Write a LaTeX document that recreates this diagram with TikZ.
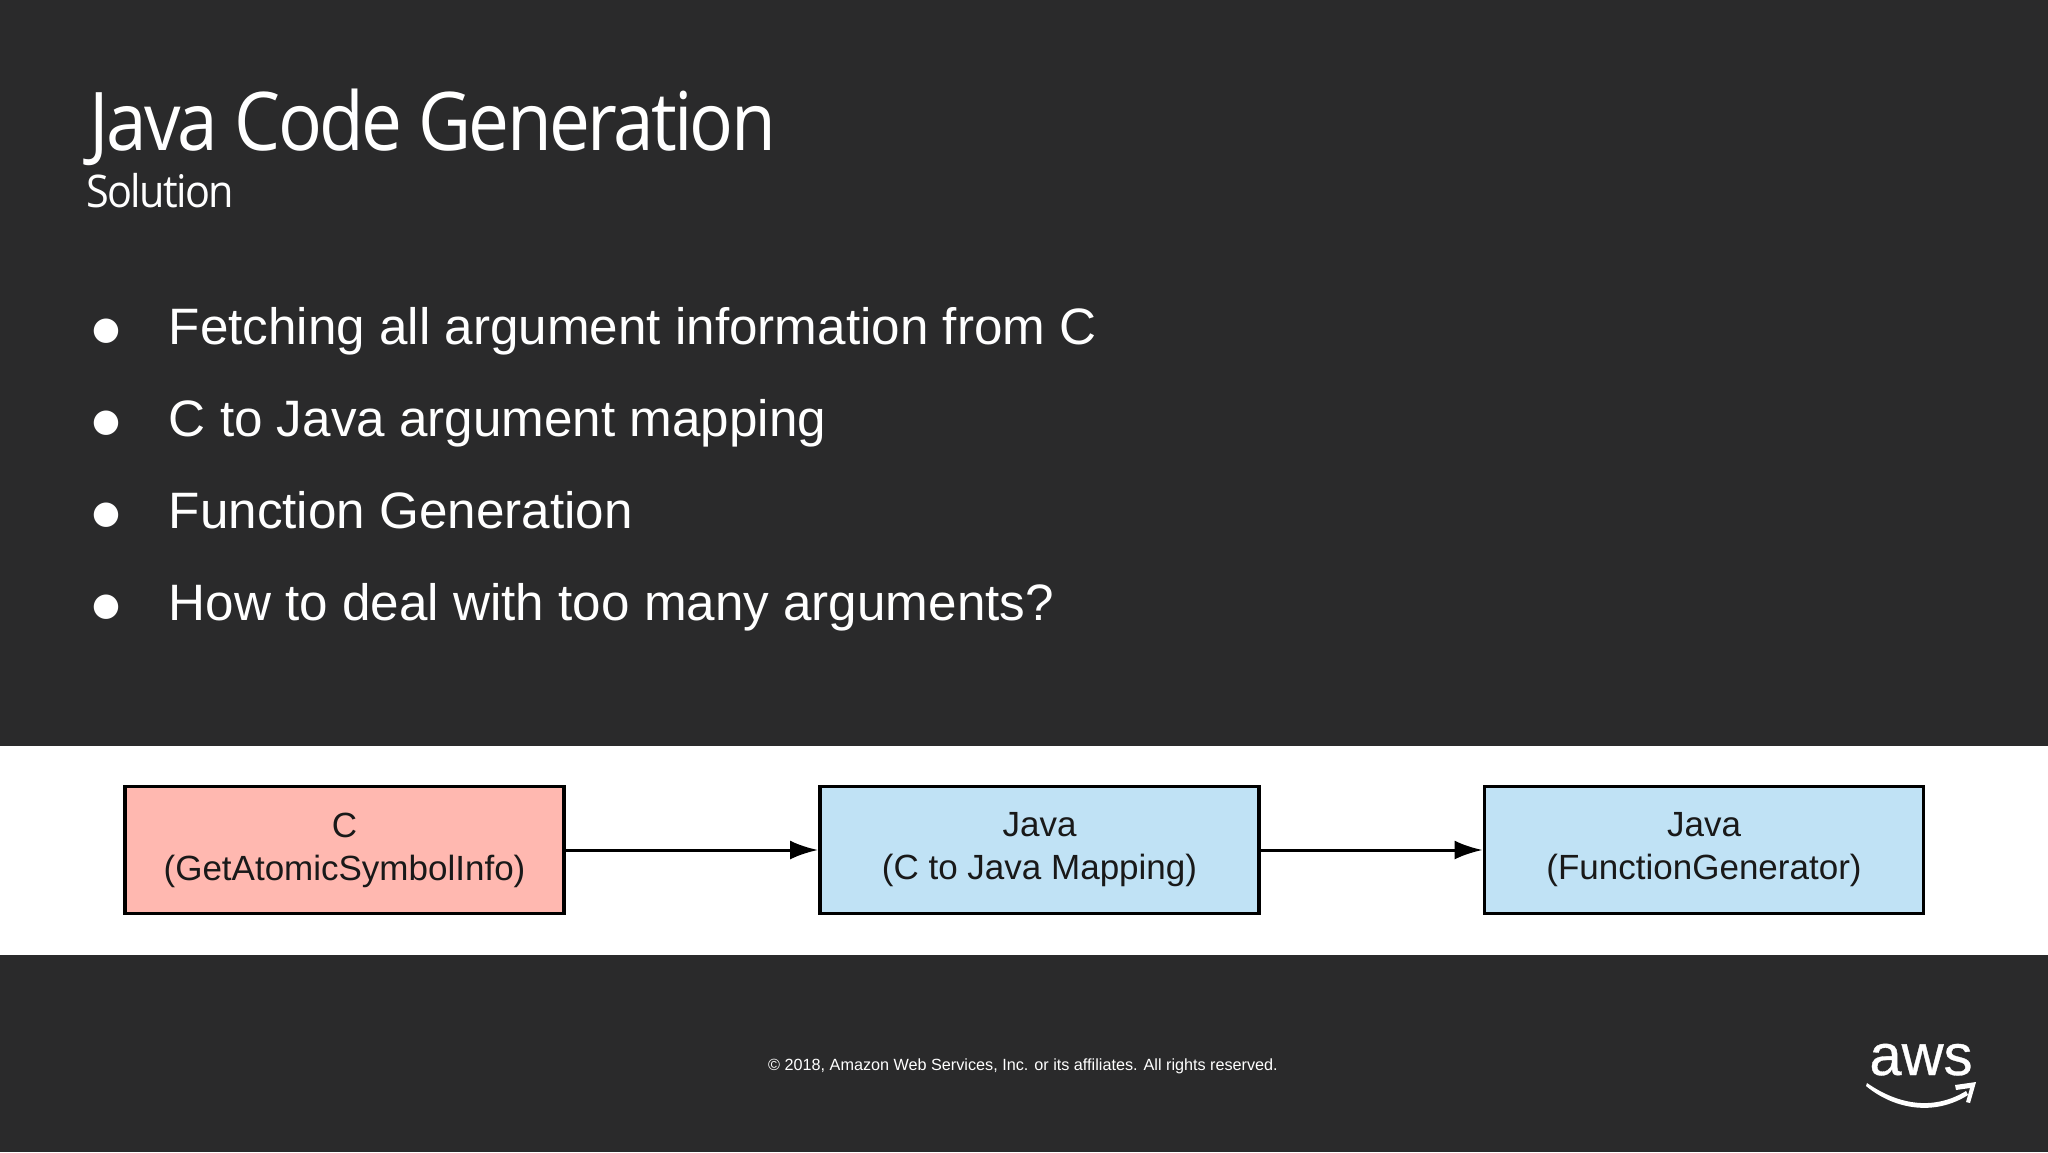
\documentclass[tikz,border=0pt]{standalone}
\usepackage{fontspec}
\setmainfont{Liberation Sans}
\newfontfamily\titlefont[FakeStretch=0.9,LetterSpace=-3.3]{Open Sans}
\newfontfamily\subfont[FakeStretch=0.92,LetterSpace=-3.6]{Open Sans}
\newfontfamily\dotfont{DejaVu Sans}
\newfontfamily\awsfont[FakeBold=0.6]{Liberation Sans}
\definecolor{slatebg}{HTML}{2A2A2B}
\definecolor{pinkfill}{HTML}{FFB8B0}
\definecolor{bluefill}{HTML}{C0E2F5}
\usetikzlibrary{arrows.meta}
\tikzset{
  titletext/.style={anchor=base west,inner sep=0pt,text=white,font=\titlefont\fontsize{40.5}{40.5}\selectfont},
  subtext/.style={anchor=base west,inner sep=0pt,text=white,font=\subfont\fontsize{22.5}{22.5}\selectfont},
  bullettext/.style={anchor=base west,inner sep=0pt,text=white,font=\fontsize{25.6}{30}\selectfont},
  bulletdot/.style={anchor=base,inner sep=0pt,text=white,font=\dotfont\fontsize{16}{20}\selectfont},
  flowbox/.style={draw=black,line width=1.6pt,minimum width=219.5pt,minimum height=63.5pt,inner sep=0pt,outer sep=0pt,align=center,text=black!90,font=\fontsize{17.5}{21.5}\selectfont},
  flowarrow/.style={draw=black,line width=1.5pt,shorten >=1pt,-{Latex[length=14pt,width=9.5pt]}},
  foottext/.style={anchor=base,inner sep=0pt,text=white,font=\fontsize{8.1}{10}\selectfont},
  awstext/.style={anchor=base,inner sep=0pt,text=white,font=\awsfont\fontsize{29}{30}\selectfont},
}
\begin{document}
\begin{tikzpicture}[x=0.5pt,y=-0.5pt]
\useasboundingbox (0,0) rectangle (2048,1152);
\fill[slatebg] (0,0) rectangle (2048,1152);
\fill[white] (0,746) rectangle (2048,955);
\node[titletext] (title) at (89,150) {Java Code Generation};
\node[subtext] (subtitle) at (86,207) {Solution};
\foreach \n/\y/\t in {1/344/Fetching all argument information from C,2/436/C to Java argument mapping,3/528/Function Generation,4/620/How to deal with too many arguments?}{
  \node[bulletdot] (dot\n) at (106,\y-5) {●};
  \node[bullettext] (item\n) at (168.5,\y) {\t};
}
\node[flowbox,fill=pinkfill] (c) at (344.5,850) {C\\(GetAtomicSymbolInfo)};
\node[flowbox,fill=bluefill] (map) at (1039.5,850) {Java\\(C to Java Mapping)};
\node[flowbox,fill=bluefill] (gen) at (1704,850) {Java\\(FunctionGenerator)};
\draw[flowarrow] (c) -- (map);
\draw[flowarrow] (map) -- (gen);
\node[foottext] (foot) at (1023,1070) {© 2018, Amazon Web Services, Inc. or its affiliates. All rights reserved.};
\node[awstext] (aws) at (1921,1075) {aws};
\fill[white] (1867,1083) .. controls (1900,1106) and (1935,1110) .. (1966,1091) -- (1968,1095) .. controls (1935,1116) and (1895,1110) .. (1866,1086) -- cycle;
\fill[white] (1955,1085) -- (1976,1082) -- (1970,1103) -- (1966,1102) -- (1970,1088) -- (1956,1090) -- cycle;
\end{tikzpicture}
\end{document}
